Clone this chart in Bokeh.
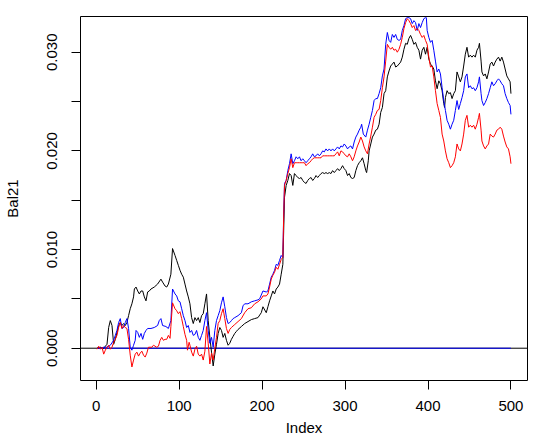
from bokeh.plotting import figure
from bokeh.models import Range1d, FixedTicker, NumeralTickFormatter, Span, ColumnDataSource
from bokeh.embed import file_html
from bokeh.resources import INLINE

# Values (value units: 1e-4)
black_idx = [1, 5, 9, 13, 15, 17, 19, 21, 23, 25, 27, 29, 31, 33, 35, 37, 39, 41, 43, 45, 46, 48, 50, 52, 54, 56, 58, 60, 62, 64, 66, 70, 74, 78, 80, 83, 85, 87, 90, 92, 95, 97, 99, 101, 103, 105, 107, 109, 111, 113, 115, 117, 119, 121, 123, 125, 127, 129, 131, 133, 135, 137, 139, 141, 143, 145, 147, 149, 151, 153, 155, 157, 159, 161, 163, 165, 167, 169, 171, 175, 179, 183, 187, 191, 195, 199, 201, 205, 207, 209, 211, 213, 215, 217, 219, 221, 223, 225, 226, 227, 229, 231, 233, 235, 237, 239, 241, 243, 245, 247, 249, 251, 253, 255, 257, 259, 261, 263, 265, 267, 269, 271, 273, 275, 277, 279, 281, 283, 285, 287, 289, 291, 293, 295, 297, 299, 301, 303, 305, 307, 309, 311, 313, 315, 317, 319, 321, 323, 325, 326, 328, 329, 331, 333, 335, 337, 339, 341, 343, 345, 347, 349, 351, 353, 355, 357, 359, 361, 363, 365, 367, 369, 371, 373, 375, 377, 379, 381, 383, 385, 387, 389, 391, 393, 395, 397, 399, 401, 403, 405, 407, 409, 411, 413, 415, 417, 419, 420, 421, 423, 425, 427, 429, 431, 433, 435, 437, 439, 441, 443, 445, 447, 449, 451, 453, 455, 457, 459, 461, 462, 464, 465, 467, 469, 471, 473, 475, 477, 479, 481, 483, 485, 487, 489, 491, 493, 495, 497, 499, 500]
black_v = [0, 1, 0, 4, 21, 28, 23, 4, 9, 16, 23, 26, 23, 25, 23, 26, 33, 40, 45, 52, 60, 62, 58, 55, 58, 58, 52, 48, 57, 58, 60, 62, 65, 70, 67, 63, 62, 65, 75, 101, 94, 89, 84, 79, 75, 72, 65, 58, 52, 45, 31, 25, 31, 28, 31, 26, 33, 35, 45, 55, 28, 11, -4, -18, -6, 4, 15, 21, 18, 11, 15, 8, 3, 5, 9, 12, 15, 17, 19, 22, 25, 27, 29, 30, 31, 36, 42, 36, 42, 48, 53, 58, 55, 60, 62, 65, 75, 85, 119, 153, 165, 170, 177, 175, 165, 177, 175, 173, 172, 173, 170, 168, 167, 170, 172, 173, 170, 172, 175, 173, 175, 177, 178, 177, 178, 177, 178, 177, 180, 178, 180, 182, 180, 182, 185, 182, 180, 175, 177, 173, 172, 173, 180, 185, 188, 190, 193, 187, 180, 178, 190, 200, 207, 214, 217, 221, 222, 227, 239, 244, 258, 261, 275, 281, 286, 288, 290, 285, 286, 288, 290, 295, 303, 309, 308, 314, 317, 313, 308, 310, 305, 302, 293, 302, 305, 298, 305, 293, 288, 286, 283, 271, 263, 271, 268, 261, 248, 244, 254, 261, 258, 259, 253, 258, 261, 280, 275, 270, 275, 286, 298, 305, 295, 297, 295, 297, 295, 302, 305, 309, 291, 280, 276, 278, 273, 280, 288, 290, 286, 290, 293, 295, 291, 295, 290, 283, 276, 273, 270, 258]

blue_idx = [1, 5, 9, 13, 17, 21, 23, 25, 27, 29, 31, 33, 35, 37, 39, 41, 43, 45, 47, 48, 50, 52, 54, 56, 58, 60, 62, 66, 70, 74, 76, 78, 80, 84, 87, 90, 92, 95, 97, 99, 101, 103, 105, 107, 109, 111, 113, 115, 117, 119, 121, 123, 125, 127, 129, 131, 133, 135, 137, 139, 141, 143, 145, 147, 149, 151, 153, 155, 157, 159, 161, 163, 165, 167, 171, 175, 177, 179, 183, 187, 191, 195, 197, 201, 205, 207, 209, 211, 213, 215, 217, 219, 221, 223, 225, 226, 227, 229, 231, 233, 235, 237, 239, 241, 243, 245, 247, 249, 251, 253, 255, 257, 259, 261, 263, 265, 267, 269, 271, 273, 275, 277, 279, 281, 283, 285, 287, 289, 291, 293, 295, 297, 299, 301, 303, 305, 307, 309, 311, 313, 315, 317, 319, 320, 322, 325, 327, 329, 331, 333, 335, 337, 339, 341, 343, 345, 347, 349, 351, 353, 355, 357, 359, 361, 363, 365, 367, 369, 371, 373, 375, 377, 379, 381, 383, 385, 387, 389, 391, 393, 395, 397, 398, 399, 401, 403, 405, 407, 409, 411, 413, 415, 417, 419, 421, 423, 425, 427, 429, 431, 433, 435, 437, 439, 441, 443, 445, 447, 449, 451, 453, 455, 457, 459, 461, 462, 464, 465, 467, 469, 471, 473, 475, 477, 479, 481, 483, 485, 487, 489, 491, 493, 495, 497, 499, 500]
blue_v = [0, 0, 1, 1, 3, 8, 13, 18, 26, 30, 20, 21, 26, 30, 20, 1, -2, 3, 8, 18, 16, 11, 15, 9, 15, 18, 20, 20, 21, 23, 28, 30, 23, 22, 20, 28, 60, 55, 53, 48, 47, 40, 33, 28, 21, 23, 16, 18, 13, 14, 18, 11, 8, 13, 18, 28, 36, 18, 5, 11, 1, 18, 28, 33, 38, 46, 52, 42, 31, 25, 26, 28, 30, 31, 33, 36, 43, 45, 45, 47, 48, 49, 50, 58, 57, 58, 65, 72, 75, 79, 85, 84, 89, 94, 92, 136, 167, 170, 180, 187, 197, 187, 190, 194, 192, 194, 190, 192, 190, 188, 190, 192, 194, 197, 194, 195, 197, 195, 197, 200, 199, 202, 200, 202, 200, 202, 200, 202, 204, 202, 205, 204, 207, 205, 202, 204, 205, 202, 209, 214, 217, 221, 224, 227, 217, 214, 221, 227, 234, 241, 251, 253, 253, 258, 264, 276, 283, 308, 320, 312, 310, 318, 315, 318, 313, 312, 313, 322, 327, 334, 335, 335, 334, 329, 332, 330, 322, 329, 325, 330, 334, 335, 335, 322, 315, 310, 312, 302, 291, 280, 283, 278, 264, 251, 241, 231, 227, 222, 227, 231, 241, 251, 242, 248, 254, 261, 275, 278, 264, 266, 263, 264, 261, 264, 270, 275, 258, 251, 246, 249, 253, 258, 264, 270, 266, 268, 271, 273, 271, 268, 266, 258, 253, 249, 246, 237]

red_idx = [1, 3, 5, 7, 9, 11, 13, 15, 17, 19, 21, 23, 25, 27, 29, 31, 33, 35, 37, 39, 41, 43, 45, 47, 49, 51, 53, 55, 57, 59, 61, 63, 67, 69, 73, 75, 77, 79, 81, 83, 85, 87, 89, 90, 92, 95, 97, 99, 101, 103, 105, 107, 109, 110, 112, 113, 115, 117, 119, 121, 123, 125, 127, 129, 131, 133, 135, 137, 139, 141, 143, 145, 147, 149, 151, 153, 155, 157, 159, 161, 163, 167, 171, 175, 179, 183, 187, 191, 195, 199, 201, 205, 207, 209, 211, 213, 215, 217, 219, 221, 223, 225, 226, 227, 229, 231, 233, 235, 237, 239, 241, 243, 245, 247, 249, 251, 253, 255, 257, 259, 261, 263, 265, 267, 269, 271, 273, 275, 277, 279, 281, 283, 285, 287, 289, 291, 293, 295, 297, 299, 301, 303, 305, 307, 309, 311, 313, 315, 317, 319, 321, 323, 325, 327, 329, 331, 333, 335, 337, 339, 341, 343, 345, 347, 349, 351, 353, 355, 357, 359, 361, 363, 365, 367, 369, 371, 373, 375, 377, 379, 381, 383, 385, 387, 389, 391, 393, 395, 397, 399, 401, 403, 405, 407, 409, 411, 413, 415, 417, 419, 421, 423, 425, 427, 429, 431, 433, 435, 437, 439, 441, 443, 445, 447, 449, 451, 453, 455, 457, 459, 461, 462, 464, 465, 467, 469, 471, 473, 475, 477, 479, 481, 483, 485, 487, 489, 491, 493, 495, 497, 499, 500]
red_v = [-1, 2, -1, 1, -6, -2, 1, 3, -1, 1, 6, 9, 13, 21, 26, 20, 23, 21, 20, 9, -7, -19, -12, -6, -4, -8, -5, -3, -7, -9, -5, 1, 1, 3, 1, 2, 8, 11, 8, 9, 9, 13, 10, 22, 46, 40, 38, 35, 37, 30, 22, 14, 8, -2, 6, 3, -4, -8, -1, 2, -6, -8, -6, -12, -3, 22, 5, -16, -5, -12, 0, 11, 25, 28, 35, 40, 30, 20, 15, 19, 21, 24, 27, 30, 36, 40, 41, 45, 47, 50, 53, 53, 55, 62, 70, 74, 77, 82, 80, 85, 90, 92, 133, 165, 170, 177, 183, 192, 183, 188, 188, 188, 188, 188, 188, 188, 185, 187, 188, 190, 192, 193, 193, 193, 193, 193, 195, 195, 195, 195, 195, 195, 195, 195, 197, 199, 195, 200, 199, 197, 195, 194, 197, 194, 190, 194, 200, 205, 209, 214, 210, 204, 200, 197, 207, 215, 224, 234, 237, 241, 242, 251, 264, 275, 291, 308, 305, 303, 305, 302, 303, 300, 303, 308, 315, 324, 330, 334, 332, 329, 325, 327, 322, 324, 322, 318, 315, 317, 312, 308, 295, 285, 286, 275, 261, 248, 241, 234, 217, 210, 200, 192, 188, 183, 185, 188, 194, 207, 202, 200, 207, 217, 231, 236, 224, 226, 224, 226, 222, 227, 234, 238, 221, 210, 205, 202, 205, 207, 217, 215, 214, 217, 221, 222, 224, 222, 215, 209, 204, 202, 194, 187]

zero_idx = [1, 500]
zero_v = [0, 0]

x_ticks = [0, 100, 200, 300, 400, 500]
y_ticks = [0.0, 0.01, 0.02, 0.03]
y_minor = [0.005, 0.015, 0.025]

SCALE = 1e-4
FONT = "Liberation Sans"

p = figure(width=537, height=440, output_backend="svg", toolbar_location=None,
           x_range=Range1d(-18.96, 519.96), y_range=Range1d(-0.003273, 0.03362),
           min_border_left=78, min_border_right=10, min_border_top=16, min_border_bottom=60,
           x_axis_label="Index", y_axis_label="Bal21")
p.background_fill_color = "white"
p.border_fill_color = "white"
p.xgrid.visible = False
p.ygrid.visible = False
p.outline_line_color = "black"
p.outline_line_alpha = 1.0
p.outline_line_width = 1

for ax in (p.xaxis[0], p.yaxis[0]):
    ax.axis_line_color = None
    ax.major_tick_in = 0
    ax.major_tick_out = 9
    ax.major_tick_line_color = "black"
    ax.minor_tick_in = 0
    ax.major_label_text_font = FONT
    ax.major_label_text_font_size = "15px"
    ax.major_label_text_color = "black"
    ax.axis_label_text_font = FONT
    ax.axis_label_text_font_size = "15px"
    ax.axis_label_text_font_style = "normal"
    ax.axis_label_text_color = "black"

p.xaxis[0].ticker = FixedTicker(ticks=x_ticks)
p.xaxis[0].minor_tick_out = 0
p.xaxis[0].major_label_standoff = 11
p.xaxis[0].axis_label_standoff = 5

p.yaxis[0].ticker = FixedTicker(ticks=y_ticks, minor_ticks=y_minor)
p.yaxis[0].minor_tick_out = 9
p.yaxis[0].minor_tick_line_color = "black"
p.yaxis[0].formatter = NumeralTickFormatter(format="0.000")
p.yaxis[0].major_label_orientation = "vertical"
p.yaxis[0].major_label_standoff = 14
p.yaxis[0].axis_label_standoff = 24

# horizontal reference line at zero, drawn beneath the series
p.add_layout(Span(location=0, dimension="width", line_color="black", line_width=1, level="underlay"))

def src(idx, vals):
    return ColumnDataSource(data=dict(x=idx, y=[v * SCALE for v in vals]))

p.line("x", "y", source=ColumnDataSource(data=dict(x=zero_idx, y=zero_v)), line_color="blue", line_width=1)
p.line("x", "y", source=src(black_idx, black_v), line_color="black", line_width=1)
p.line("x", "y", source=src(blue_idx, blue_v), line_color="blue", line_width=1)
p.line("x", "y", source=src(red_idx, red_v), line_color="red", line_width=1)

open("out.html", "w").write(file_html(p, INLINE))
